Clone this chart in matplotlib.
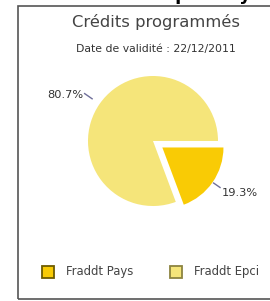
import matplotlib
matplotlib.use("Agg")
import matplotlib.pyplot as plt
import numpy as np
from matplotlib.patches import Rectangle
from matplotlib.lines import Line2D

categories = ["Fraddt Pays", "Fraddt Epci"]
values = [19.3, 80.7]
colors = ["#F9CB05", "#F5E57A"]
edge_colors = ["#6E5C00", "#8C8440"]
title = "Crédits programmés"
subtitle = "Date de validité : 22/12/2011"
top_text = "Montant des crédits par Pays et Epci"

W, H = 270, 301
plt.rcParams['font.family'] = ['DejaVu Sans']
fig = plt.figure(figsize=(W / 100, H / 100), dpi=100)

def fx(px):
    return px / W

def fy(py):
    return 1 - py / H

# frame box
fig.patches.append(Rectangle((fx(18), fy(298.5)), 1.2, (298.5 - 6) / H,
                             transform=fig.transFigure, fill=False,
                             edgecolor="#555555", linewidth=1.2))

# clipped heading at top (only the lowest pixels are visible)
fig.text(0.56, fy(-0.2), top_text, ha="center", va="baseline", fontsize=13,
         fontweight="bold", color="black")

fig.text(fx(156), fy(22.5), title, ha="center", va="center", fontsize=11.8,
         color="#444444")
fig.text(fx(156), fy(49), subtitle, ha="center", va="center", fontsize=7.8,
         color="#333333")

# pie axes: center (153,141), radius 65 px
cx, cy, r = 153, 141, 65
half = 90
ax = fig.add_axes([fx(cx - half), fy(cy + half), 2 * half / W, 2 * half / H])
lim = half / r
wedges, _ = ax.pie(values, colors=colors, startangle=0, counterclock=False,
                   explode=[0.175, 0], radius=1.0,
                   wedgeprops=dict(linewidth=0))
wedges[0].set_radius(0.94)
ax.set_xlim(-lim, lim)
ax.set_ylim(-lim, lim)
ax.set_aspect("equal")
ax.axis("off")

# labels: (wedge index, line start r, line end r, text dx, dy, ha)
label_specs = [
    (0, 0.96, 1.08, 0.03, -0.09, "left"),
    (1, 1.14, 1.28, -0.02, -0.015, "right"),
]
for idx, r0, r1, dx, dy, ha in label_specs:
    w = wedges[idx]
    ang = np.deg2rad((w.theta1 + w.theta2) / 2)
    wx, wy = w.center
    x0, y0 = wx + r0 * np.cos(ang), wy + r0 * np.sin(ang)
    x1, y1 = wx + r1 * np.cos(ang), wy + r1 * np.sin(ang)
    ax.plot([x0, x1], [y0, y1], color="#6F6F9A", linewidth=1.0, clip_on=False)
    ax.text(x1 + dx, y1 + dy, f"{values[idx]:.1f}%", ha=ha, va="center",
            fontsize=8.2, color="#333333", clip_on=False)

# legend (drawn manually for exact placement)
legend_x = [48, 176]
legend_y = 272
for px, lab, c, ec in zip(legend_x, categories, colors, edge_colors):
    fig.add_artist(Line2D([fx(px)], [fy(legend_y)], marker="s", linestyle="none",
                          markersize=8, markerfacecolor=c, markeredgecolor=ec,
                          markeredgewidth=1.3, transform=fig.transFigure))
    fig.text(fx(px + 17.5), fy(legend_y), lab, ha="left", va="center",
             fontsize=8.4, color="#444444")

fig.savefig("out.png", dpi=100, facecolor="white")
